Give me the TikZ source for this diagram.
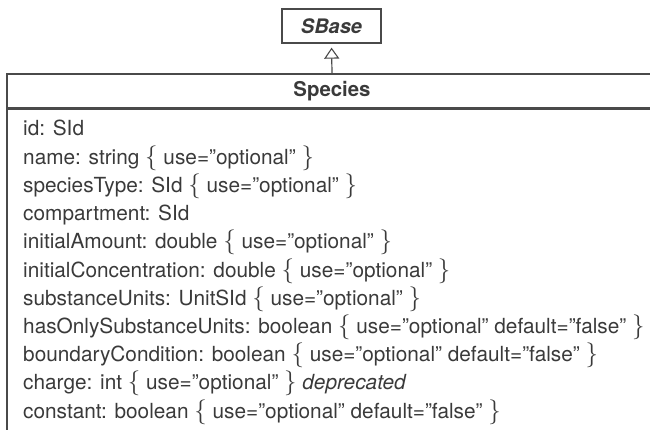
\documentclass[tikz,border=0pt]{standalone}
\usepackage{fontspec}
\setmainfont{TeX Gyre Heros}
\usetikzlibrary{arrows.meta}
\definecolor{txt}{HTML}{3A3A3A}
\definecolor{ln}{HTML}{4A4A4A}
\tikzset{
  boxline/.style={draw=ln, line width=1.3pt},
  attr/.style={anchor=base west, inner sep=0pt, text=txt, font=\fontsize{20.8}{24}\selectfont},
  hdr/.style={text=txt, font=\fontsize{20.4}{24}\selectfont\bfseries},
}
\newcommand{\lb}{{\fontsize{23}{24}\selectfont$\{$}}
\newcommand{\rb}{{\fontsize{23}{24}\selectfont$\}$}}
\begin{document}
\begin{tikzpicture}[x=1pt,y=-1pt]
\useasboundingbox (0,0) rectangle (650,430);
\clip (0,0) rectangle (650,430);
% SBase
\node[boxline, minimum width=99pt, minimum height=34pt, inner sep=0pt, text=txt,
      font=\fontsize{20}{22}\selectfont\bfseries\itshape] (sbase) at (331.5,26) {SBase};
% Species header and body
\node[boxline, minimum width=650pt, minimum height=34pt, inner sep=0pt, hdr] (species) at (332,91) {Species};
\node[boxline, minimum width=650pt, minimum height=360pt, inner sep=0pt, anchor=north] (body) at (species.south) {};
\draw[draw=ln, line width=1.2pt, -{Triangle[open, length=11pt, width=15pt, line width=1.1pt]}, shorten >=4pt]
  (species.north) -- (sbase.south);
% attributes
\node[attr] (a1) at (23,136.0) {id: SId};
\node[attr] (a2) at (23,164.2) {name: string \lb{} use=”optional” \rb};
\node[attr] (a3) at (23,192.4) {speciesType: SId \lb{} use=”optional” \rb};
\node[attr] (a4) at (23,220.6) {compartment: SId};
\node[attr] (a5) at (23,248.8) {initialAmount: double \lb{} use=”optional” \rb};
\node[attr] (a6) at (23,277.0) {initialConcentration: double \lb{} use=”optional” \rb};
\node[attr] (a7) at (23,305.2) {substanceUnits: UnitSId \lb{} use=”optional” \rb};
\node[attr] (a8) at (23,333.4) {hasOnlySubstanceUnits: boolean \lb{} use=”optional” default=”false” \rb};
\node[attr] (a9) at (23,361.6) {boundaryCondition: boolean \lb{} use=”optional” default=”false” \rb};
\node[attr] (a10) at (23,389.8) {charge: int \lb{} use=”optional” \rb{} \textit{deprecated}};
\node[attr] (a11) at (23,418.0) {constant: boolean \lb{} use=”optional” default=”false” \rb};
\end{tikzpicture}
\end{document}
